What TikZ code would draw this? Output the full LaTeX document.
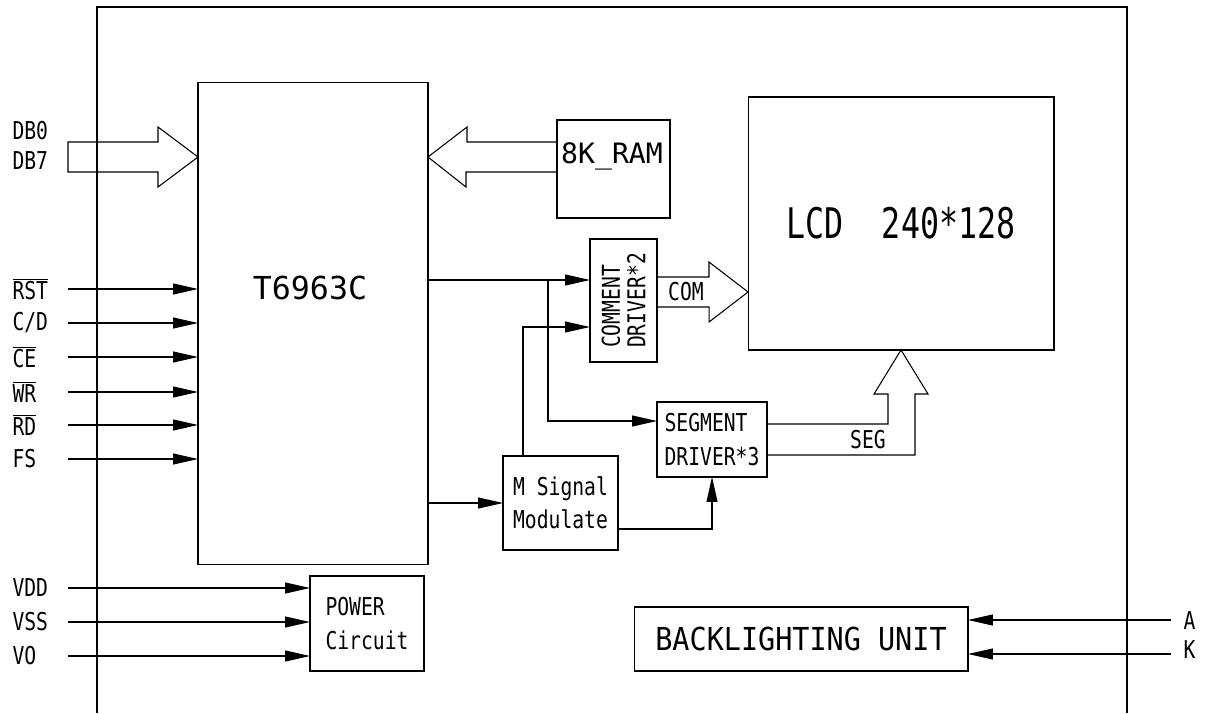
\documentclass[tikz,border=0pt]{standalone}
\usepackage{fontspec}
\setmainfont[FakeStretch=0.8]{DejaVu Sans Mono}
\newfontfamily\widefont[FakeStretch=1.0]{DejaVu Sans Mono}
\newfontfamily\midfont[FakeStretch=0.9]{DejaVu Sans Mono}
\newfontfamily\narrowfont[FakeStretch=0.75]{DejaVu Sans Mono}
\usetikzlibrary{arrows.meta}
\newcommand{\ovl}[1]{$\overline{\mbox{#1}}$}

\begin{document}
\begin{tikzpicture}[x=0.02cm, y=-0.02cm, line width=0.6pt,
  box/.style={draw, inner sep=0pt, outer sep=0pt},
  sig/.style={-{Triangle[length=0.5cm, width=0.22cm]}},
  pin/.style={anchor=west, inner sep=0pt, font=\fontsize{14}{16}\selectfont},
  txt/.style={font=\fontsize{14}{19}\selectfont, align=left}]
\useasboundingbox (0,0) rectangle (1206,713);
% module outline
\draw (97,713) -- (97,7) -- (1127,7) -- (1127,713);

% blocks
\node[box, minimum width=4.6cm, minimum height=9.66cm] (ctrl) at (313,323.5) {};
\node[font=\widefont\fontsize{18}{20}\selectfont] (ctrltxt) at (310,288) {T6963C};
\node[box, minimum width=2.26cm, minimum height=1.96cm] (ram) at (613.5,169) {};
\node[font=\widefont\fontsize{16}{18}\selectfont] (ramtxt) at (612,156) {8K\_RAM};
\node[box, minimum width=1.34cm, minimum height=2.46cm] (cdrv) at (623.5,300.5) {};
\node[txt, rotate=90, font=\fontsize{14}{14.5}\selectfont] (cdrvtxt) at (cdrv) {COMMENT\\DRIVER*2};
\node[box, minimum width=6.12cm, minimum height=5.06cm, font=\narrowfont\fontsize{24}{26}\selectfont] (lcd) at (901,223.5) {LCD~~240*128};
\node[box, txt, minimum width=2.2cm, minimum height=1.5cm] (sdrv) at (712,439.5) {SEGMENT\\DRIVER*3};
\node[box, txt, minimum width=2.3cm, minimum height=1.88cm] (msig) at (560.5,503) {M Signal\\Modulate};
\node[box, txt, minimum width=2.28cm, minimum height=1.9cm] (pwr) at (367,623.5) {POWER\\Circuit};
\node[box, minimum width=6.68cm, minimum height=1.28cm, font=\midfont\fontsize{18}{20}\selectfont] (back) at (801,639) {BACKLIGHTING UNIT};

% data bus
\node[pin] (lbl-db0) at (12,131) {DB0};
\node[pin] (lbl-db7) at (12,161) {DB7};
\coordinate (db) at (68,157);
\draw (db) ++(0,-15) -- ++(90,0) -- ++(0,-15) -- (ctrl.west |- db) -- ++(-40,30) -- ++(0,-15) -- ++(-90,0) -- cycle;
\draw (ram.west |- 0,142) -- ++(-90,0) -- ++(0,-15) -- (ctrl.east |- db) -- ++(38,30) -- ++(0,-15) -- (ram.west |- 0,172);

% COM and SEG buses
\draw (cdrv.east |- 0,277) -- ++(52,0) -- ++(0,-15) -- (lcd.west |- 0,292) -- ++(-39,30) -- ++(0,-15) -- (cdrv.east |- 0,307);
\node[pin, anchor=center] (comlbl) at (686,292) {COM};
\draw (sdrv.east |- 0,424) -- (888,424) -- (888,394) -- (874,394) -- (lcd.south) -- (928,394) -- (915,394) -- (915,455) -- (sdrv.east |- 0,455);
\node[pin, anchor=center] (seglbl) at (868,440) {SEG};

% internal signals
\coordinate (split) at (548,280);
\draw[sig] (ctrl.east |- split) -- (cdrv.west |- split);
\draw[sig] (split) |- (sdrv.west |- 0,421);
\draw[sig] (msig.north -| 523,0) |- (cdrv.west |- 0,327);
\draw[sig] (ctrl.east |- msig.west) -- (msig.west);
\draw[sig] (msig.east |- 0,529) -| (sdrv.south);

% control inputs
\foreach \n/\y/\t in {rst/289/\ovl{RST}, cd/323/{C/D}, ce/357/\ovl{CE}, wr/392/\ovl{WR}, rd/425/\ovl{RD}, fs/459/FS}{
  \node[pin] (lbl-\n) at (12,\y) {\t};
  \coordinate (in-\n) at (68,\y);
  \draw[sig] (in-\n) -- (ctrl.west |- in-\n);
}
% power inputs
\foreach \n/\y/\t in {vdd/588/VDD, vss/622/VSS, vo/656/VO}{
  \node[pin] (lbl-\n) at (12,\y) {\t};
  \coordinate (in-\n) at (68,\y);
  \draw[sig] (in-\n) -- (pwr.west |- in-\n);
}
% backlight
\foreach \n/\y/\l in {a/620/621, k/654/650}{
  \node[pin] (lbl-\n) at (1183,\l) {\MakeUppercase{\n}};
  \coordinate (in-\n) at (1171,\y);
  \draw[sig] (in-\n) -- (back.east |- in-\n);
}
\end{tikzpicture}
\end{document}
